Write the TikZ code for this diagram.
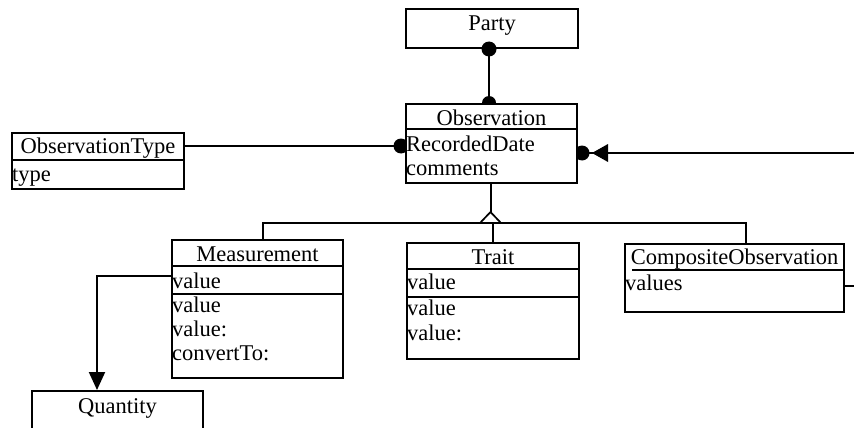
\documentclass[tikz,border=0pt]{standalone}
\usepackage{fontspec}
\setmainfont{Liberation Serif}
\usetikzlibrary{arrows.meta,backgrounds}
\begin{document}
\begin{tikzpicture}[x=1pt,y=-1pt,
  umlbox/.style={draw,fill=white,line width=2pt,inner sep=0pt,anchor=north west},
  lbl/.style={inner sep=0pt,font=\fontsize{22.5}{25}\selectfont},
  conn/.style={line width=2pt},
  divider/.style={line width=1.7pt},
  filledtip/.style={-{Triangle[length=18pt,width=16pt]}}]
\useasboundingbox (0,0) rectangle (854,428);

% ---- class boxes ----
\path
  (405,8)   node[umlbox,minimum width=172pt,minimum height=39pt]  (party) {}
  (405,103) node[umlbox,minimum width=171pt,minimum height=79pt]  (obs)   {}
  (11,132)  node[umlbox,minimum width=172pt,minimum height=56pt]  (otype) {}
  (171,239) node[umlbox,minimum width=171pt,minimum height=138pt] (meas)  {}
  (406,242) node[umlbox,minimum width=172pt,minimum height=116pt] (trait) {}
  (624,243) node[umlbox,minimum width=219pt,minimum height=68pt]  (comp)  {}
  (31,390)  node[umlbox,minimum width=171pt,minimum height=60pt]  (qty)   {};

% ---- connectors, kept behind the boxes ----
\begin{scope}[on background layer]
  % Party -- Observation
  \coordinate (pbot) at ([xshift=-3pt]party.south);
  \draw[conn] (pbot) -- (pbot |- obs.north);
  \fill (pbot |- obs.north) circle (7);
  % ObservationType -- Observation
  \draw[conn] (otype.east |- 0,146) -- (obs.west |- 0,146);
  \fill ([xshift=-4pt]obs.west |- 0,146) circle (7.5);
  % CompositeObservation loops back into Observation
  \coordinate (loop) at (880,286);
  \draw[conn] (comp.east |- 0,286) -- (loop) -- (loop |- 0,153) -- (obs.east |- 0,153);
  \fill ([xshift=4pt]obs.east |- 0,153) circle (7.5);
  \fill (592,153) -- (608,144) -- (608,162) -- cycle;
  % generalisation tree
  \coordinate (apex) at (490.5,212);
  \draw[conn] (obs.south -| apex) -- (apex);
  \draw[conn] (meas.north -| 263,0) -- (263,222.5) -- (746,222.5) -- (comp.north -| 746,0);
  \draw[conn] (trait.north) -- (trait.north |- 0,222.5);
  \draw[conn,fill=white,line width=1.7pt] (apex) -- (480,223) -- (501,223) -- cycle;
  % Measurement.value -> Quantity
  \draw[conn,filledtip] (meas.west |- 0,276) -- (97,276) -- (qty.north -| 97,0);
\end{scope}
\fill (pbot) circle (7.5);

% ---- compartments ----
\draw[divider] (obs.west |- 0,129) -- (obs.east |- 0,129);
\draw[divider] (otype.west |- 0,160) -- (otype.east |- 0,160);
\draw[divider] (meas.west |- 0,266) -- (meas.east |- 0,266);
\draw[divider] (meas.west |- 0,294) -- (meas.east |- 0,294);
\draw[divider] (trait.west |- 0,269) -- (trait.east |- 0,269);
\draw[divider] (trait.west |- 0,297) -- (trait.east |- 0,297);
\draw[divider] (632,270) -- (comp.east |- 0,270);

% ---- texts ----
\node[lbl,anchor=base] (tparty) at (party.north |- 0,31) {Party};
\node[lbl,anchor=base] (tobs) at (obs.north |- 0,125) {Observation};
\node[lbl,anchor=base west] (a1) at (406,151) {RecordedDate};
\node[lbl,anchor=base west] (a2) at (406,175) {comments};
\node[lbl,anchor=base] (totype) at (otype.north |- 0,153) {ObservationType};
\node[lbl,anchor=base west] (a3) at (12,181) {type};
\node[lbl,anchor=base] (tmeas) at (meas.north |- 0,261) {Measurement};
\node[lbl,anchor=base west] (a4) at (172,288) {value};
\node[lbl,anchor=base west] (a5) at (172,312) {value};
\node[lbl,anchor=base west] (a6) at (172,336) {value:};
\node[lbl,anchor=base west] (a7) at (172,360) {convertTo:};
\node[lbl,anchor=base] (ttrait) at (trait.north |- 0,264) {Trait};
\node[lbl,anchor=base west] (a8) at (407,289) {value};
\node[lbl,anchor=base west] (a9) at (407,315) {value};
\node[lbl,anchor=base west] (a10) at (407,340) {value:};
\node[lbl,anchor=base] (tcomp) at (comp.north |- 0,264) {CompositeObservation};
\node[lbl,anchor=base west] (a11) at (625,290) {values};
\node[lbl,anchor=base] (tqty) at (qty.north |- 0,413) {Quantity};
\end{tikzpicture}
\end{document}
